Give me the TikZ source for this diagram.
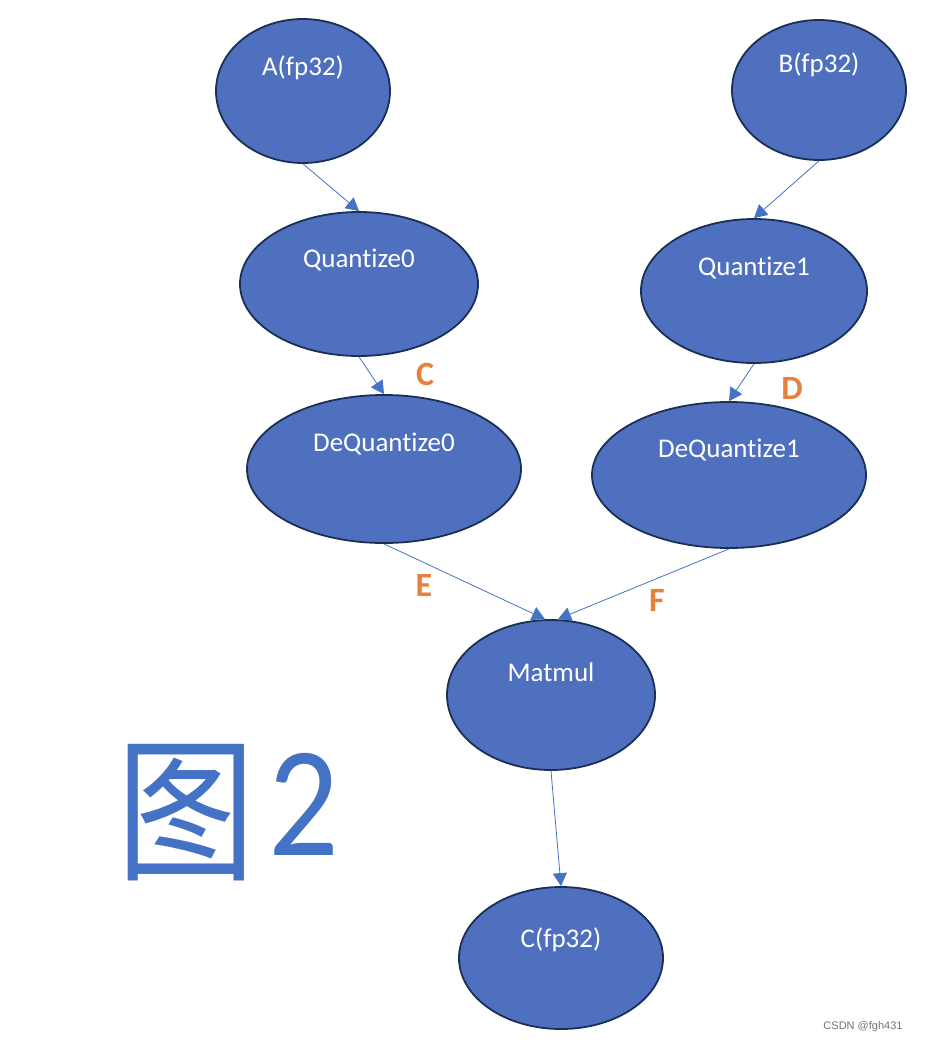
\documentclass[tikz,border=0pt]{standalone}
\usepackage{fontspec}
\setmainfont{Carlito}[Ligatures=NoCommon]
\newfontfamily\cjk{Noto Sans CJK SC}
\newfontfamily\marksans{Liberation Sans}
\usetikzlibrary{shapes.geometric,arrows.meta}
\definecolor{opblue}{HTML}{4472C4}
\definecolor{opfill}{HTML}{4E70BE}
\definecolor{opedge}{HTML}{1B2F55}
\definecolor{tagorange}{HTML}{E8803A}

\begin{document}
\begin{tikzpicture}[x=1pt,y=-1pt,
    op/.style={ellipse,draw=opedge,line width=1.8pt,fill=opfill,inner sep=0pt},
    oplabel/.style={text=white,font=\fontsize{27}{27}\selectfont},
    flow/.style={opblue,line width=0.8pt,-{Triangle[length=13pt,width=14pt]}},
    tag/.style={text=tagorange,font=\fontsize{34}{34}\selectfont\bfseries}]

    \useasboundingbox (0,0) rectangle (924,1044);

    \foreach \name/\x/\y/\w/\h/\dy/\txt in {A/303/91/174/144/23/A(fp32),
        B/819/90/174/140/25/B(fp32),
        Q0/359/284/238/144/24/Quantize0,
        Q1/754/291/226/144/23/Quantize1,
        DQ0/384/469/274/148/25/DeQuantize0,
        DQ1/729/475/274/146/25/DeQuantize1,
        M/551/695/208/150/23/Matmul,
        C/561/958/204/142/18/C(fp32)}
    {
        \node[op,minimum width=\w,minimum height=\h,
            label={[oplabel,yshift=\dy]center:\txt}] (\name) at (\x,\y) {};
    }

    \draw[flow] (A.south) -- (Q0.north);
    \draw[flow] (B.south) -- (Q1.north);
    \draw[flow] (Q0.south) -- (DQ0.north);
    \draw[flow] (Q1.south) -- (DQ1.north);
    \draw[flow] (DQ0.south) -- ([xshift=-6pt]M.north);
    \draw[flow] (DQ1.south) -- ([xshift=7pt]M.north);
    \draw[flow] (M.south) -- (C.north);

    \node[tag] (tc) at (425,374) {C};
    \node[tag] (td) at (792,388) {D};
    \node[tag] (te) at (424,585) {E};
    \node[tag] (tf) at (657,600) {F};

    \node[text=opblue,inner sep=0pt] (fig) at (186,813)
        {\scalebox{0.93}[1.04]{\fontsize{150}{150}\selectfont\cjk 图}};
    \node[text=opblue,anchor=base,inner sep=0pt] (num) at (304,855)
        {\scalebox{0.93}[1.05]{\fontsize{150}{150}\selectfont 2}};

    \node[text=black!55,font=\marksans\fontsize{11}{11}\selectfont] (csdn) at (863,1027) {CSDN @fgh431};

\end{tikzpicture}
\end{document}
